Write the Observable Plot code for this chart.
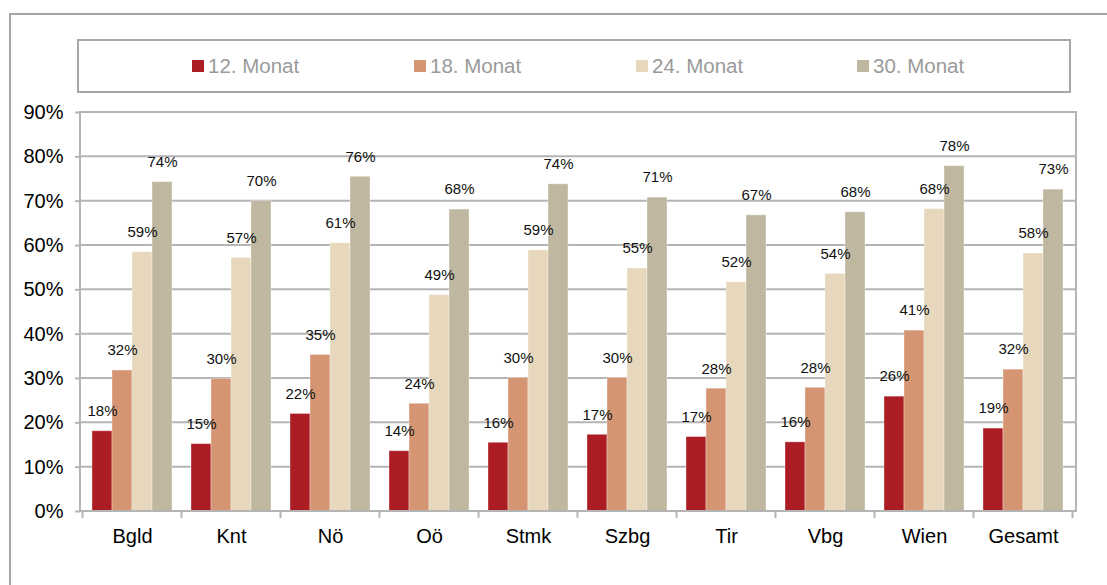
<!DOCTYPE html>
<html>
<head>
<meta charset="utf-8">
<script src="https://cdn.jsdelivr.net/npm/d3@7"></script>
<script src="https://cdn.jsdelivr.net/npm/@observablehq/plot@0.6"></script>
<style>
  html, body { margin: 0; padding: 0; background: #fff; overflow: hidden; }
  body { width: 1107px; height: 585px; position: relative; font-family: "Liberation Sans", Arial, sans-serif; }
  #outer { position: absolute; left: 9px; top: 13px; width: 1200px; height: 700px; border: 2px solid #a6a6a6; box-sizing: border-box; }
  #legend { position: absolute; left: 77px; top: 39px; width: 994px; height: 54px; border: 2px solid #a6a6a6; box-sizing: border-box; background: #fff; }
  #legend .item { position: absolute; top: 0; height: 50px; display: flex; align-items: center; font-size: 20.5px; color: #9a9a9a; white-space: nowrap; }
  #legend .sw { width: 12px; height: 12px; margin-right: 4px; }
  #chart { position: absolute; left: 0; top: 0; }
  #chart svg text { font-weight: normal; }
</style>
</head>
<body>
<div id="outer"></div>
<div id="chart"></div>
<div id="legend"></div>
<script>
const categories = ["Bgld", "Knt", "Nö", "Oö", "Stmk", "Szbg", "Tir", "Vbg", "Wien", "Gesamt"];
const seriesNames = ["12. Monat", "18. Monat", "24. Monat", "30. Monat"];
const seriesColors = ["#ab1c23", "#d59572", "#e7d7bc", "#bfb7a0"];
const m12 = [18.1, 15.2, 22.0, 13.6, 15.5, 17.3, 16.8, 15.6, 25.9, 18.7];
const m18 = [31.8, 29.9, 35.3, 24.3, 30.1, 30.1, 27.7, 27.9, 40.8, 32.0];
const m24 = [58.5, 57.2, 60.5, 48.8, 58.9, 54.8, 51.7, 53.6, 68.2, 58.2];
const m30 = [74.3, 70.0, 75.5, 68.1, 73.8, 70.8, 66.8, 67.5, 77.9, 72.6];
const yTicks = [0, 10, 20, 30, 40, 50, 60, 70, 80, 90];

const seriesValues = [m12, m18, m24, m30];
const data = [];
categories.forEach((c, i) => {
  seriesNames.forEach((s, j) => {
    data.push({category: c, series: s, value: seriesValues[j][i]});
  });
});

const gridColor = "#b4b4b4";

const chart = Plot.plot({
  width: 1107,
  height: 585,
  marginLeft: 80,
  marginRight: 31,
  marginTop: 112,
  marginBottom: 74,
  style: {fontFamily: "'Liberation Sans', Arial, sans-serif", background: "transparent", color: "#000"},
  fx: {domain: categories, paddingInner: 0.19, paddingOuter: 0.095, label: null, axis: null},
  x: {domain: seriesNames, padding: 0, axis: null},
  y: {domain: [0, 90], axis: null},
  color: {domain: seriesNames, range: seriesColors},
  marks: [
    Plot.axisY(yTicks, {tickFormat: d => d + "%", tickSize: 5, tickPadding: 12, fontSize: 20, label: null, stroke: gridColor, strokeWidth: 2, fill: "#000"}),
    Plot.axisFx({anchor: "bottom", tickSize: 0, tickPadding: 17, fontSize: 20, label: null, fill: "#000"}),
    Plot.barY(data, {fx: "category", x: "series", y: "value", fill: "series", stroke: "#ffffff", strokeOpacity: 0.35, strokeWidth: 1}),
    Plot.text(data, {fx: "category", x: "series", y: "value", text: d => Math.round(d.value) + "%", dy: -20, fontSize: 15, fill: "#111"})
  ]
});

document.getElementById("chart").appendChild(chart);

const svg = d3.select(chart);

// grid, frame and boundary ticks from the library's scales
const fx = chart.scale("fx");
const yScale = chart.scale("y");
const [xl, xr] = fx.range;
const step = fx.step;
const bw = fx.bandwidth;
const y0 = yScale.apply(0);
const yTop = yScale.apply(90);

// the y axis is anchored to the first facet; shift it to the frame's left edge
const facetOffset = fx.apply(categories[0]) - xl;
svg.selectAll("[aria-label='y-axis tick'], [aria-label='y-axis tick label']")
  .each(function() {
    const prev = this.getAttribute("transform") || "";
    this.setAttribute("transform", `translate(${-facetOffset},0) ` + prev);
  });

const gGrid = svg.insert("g", "g");
gGrid.selectAll("line").data(yTicks).join("line")
  .attr("x1", xl).attr("x2", xr)
  .attr("y1", d => yScale.apply(d)).attr("y2", d => yScale.apply(d))
  .attr("stroke", gridColor).attr("stroke-width", 2);
svg.append("rect")
  .attr("x", xl).attr("y", yTop).attr("width", xr - xl).attr("height", y0 - yTop)
  .attr("fill", "none").attr("stroke", gridColor).attr("stroke-width", 2);

const bounds = categories.map(c => fx.apply(c) - (step - bw) / 2);
bounds.push(fx.apply(categories[categories.length - 1]) + bw + (step - bw) / 2);
svg.append("g").selectAll("line").data(bounds).join("line")
  .attr("x1", d => d).attr("x2", d => d)
  .attr("y1", y0).attr("y2", y0 + 7)
  .attr("stroke", gridColor).attr("stroke-width", 2);

// legend
const legend = d3.select("#legend");
const legendLeft = [113, 335, 557, 778];
seriesNames.forEach((s, i) => {
  const item = legend.append("div").attr("class", "item").style("left", legendLeft[i] + "px");
  item.append("div").attr("class", "sw").style("background", seriesColors[i]);
  item.append("span").text(s);
});
</script>
</body>
</html>
